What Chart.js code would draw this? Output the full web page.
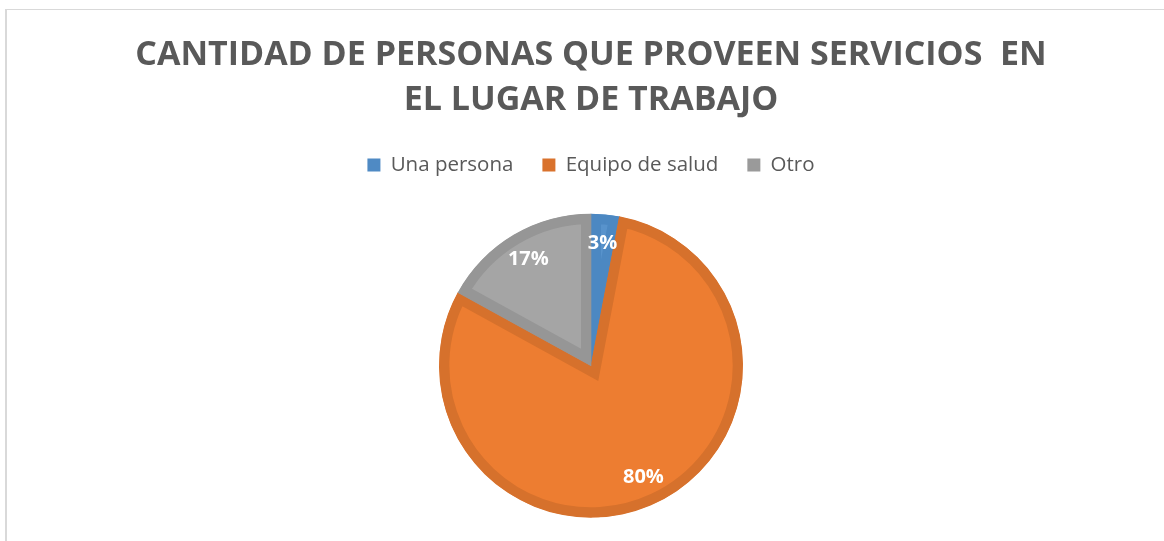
<!DOCTYPE html>
<html>
<head>
<meta charset="utf-8">
<script src="https://cdn.jsdelivr.net/npm/chart.js@4/dist/chart.umd.min.js"></script>
<style>
  html, body { margin: 0; padding: 0; background: #ffffff; overflow: hidden; }
  #wrap { position: relative; width: 1164px; height: 541px; overflow: hidden; }
  #frame { position: absolute; left: 5px; top: 9px; width: 1200px; height: 600px;
           border-left: 2px solid #d9d9d9; border-top: 1px solid #d9d9d9; }
  canvas { position: absolute; left: 0; top: 0; }
</style>
</head>
<body>
<div id="wrap">
  <div id="frame"></div>
  <canvas id="c" width="1164" height="546"></canvas>
</div>
<script>
const titleLines = ['CANTIDAD DE PERSONAS QUE PROVEEN SERVICIOS  EN', 'EL LUGAR DE TRABAJO'];
const categories = ['Una persona', 'Equipo de salud', 'Otro'];
const values = [3, 80, 17];
const fillColors = ['#5893CC', '#ED7D31', '#A5A5A5'];
const borderColors = ['#4C88C2', '#D6712C', '#969696'];
const legendColors = ['#4F8AC4', '#D9722D', '#9A9A9A'];

const labelPlugin = {
  id: 'sliceLabels',
  afterDatasetsDraw(chart) {
    const ctx = chart.ctx;
    const meta = chart.getDatasetMeta(0);
    ctx.save();
    ctx.font = 'bold 20px "Open Sans"';
    ctx.fillStyle = '#ffffff';
    ctx.textAlign = 'center';
    ctx.textBaseline = 'middle';
    meta.data.forEach((arc, i) => {
      const p = arc.getProps(['x', 'y', 'startAngle', 'endAngle', 'outerRadius'], true);
      const mid = (p.startAngle + p.endAngle) / 2;
      const r = p.outerRadius * 0.81;
      ctx.fillText(values[i] + '%', p.x + Math.cos(mid) * r, p.y + Math.sin(mid) * r);
    });
    ctx.restore();
  }
};

new Chart(document.getElementById('c'), {
  type: 'pie',
  data: {
    labels: categories,
    datasets: [{
      data: values,
      backgroundColor: fillColors,
      borderColor: borderColors,
      borderWidth: 10,
      borderAlign: 'inner',
      borderJoinStyle: 'miter'
    }]
  },
  options: {
    responsive: false,
    animation: false,
    radius: 152,
    layout: { padding: { left: 18, right: 0, top: 18, bottom: 0 } },
    plugins: {
      title: {
        display: true,
        text: titleLines,
        color: '#595959',
        font: { family: '"Open Sans"', size: 34, weight: 'bold', lineHeight: 1.32 },
        padding: { top: 15, bottom: 3 }
      },
      legend: {
        display: true,
        position: 'top',
        labels: {
          color: '#595959',
          font: { family: '"Open Sans"', size: 20.5 },
          boxWidth: 13,
          boxHeight: 13,
          padding: 29,
          generateLabels(chart) {
            return categories.map((c, i) => ({
              text: c, fillStyle: legendColors[i], strokeStyle: legendColors[i],
              lineWidth: 0, index: i, hidden: false, fontColor: '#595959'
            }));
          }
        }
      },
      tooltip: { enabled: false }
    }
  },
  plugins: [labelPlugin]
});
</script>
</body>
</html>
